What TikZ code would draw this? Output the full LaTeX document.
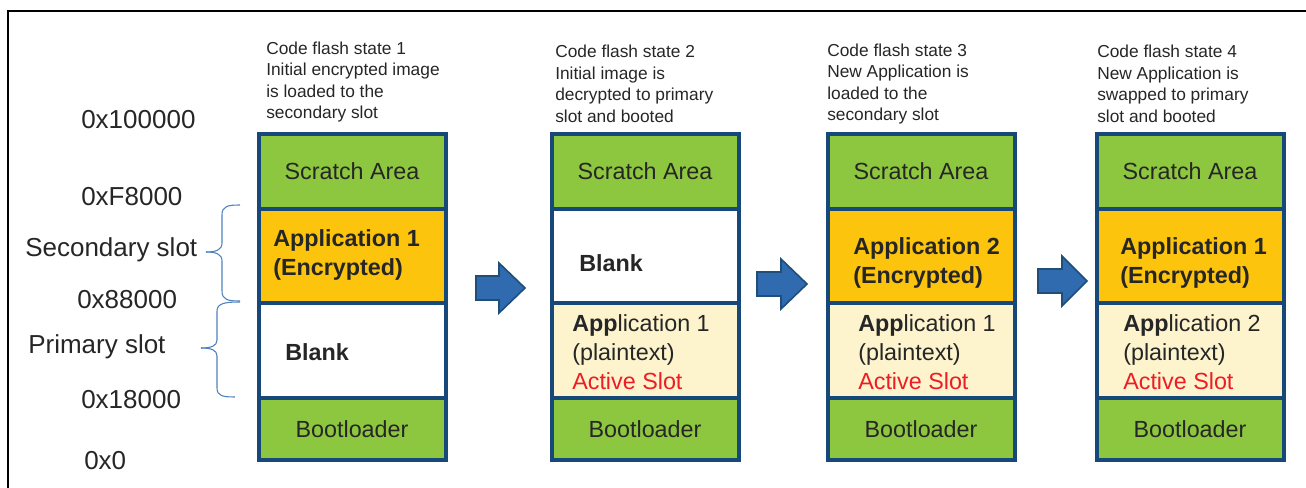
\documentclass[tikz,border=0pt]{standalone}
\usepackage{fontspec}
\setmainfont{Liberation Sans}

\definecolor{segline}{HTML}{17487A}
\definecolor{scratchgreen}{HTML}{8DC63F}
\definecolor{encyellow}{HTML}{FDC40E}
\definecolor{plaincream}{HTML}{FDF4CD}
\definecolor{flowblue}{HTML}{2F6BAE}
\definecolor{flowline}{HTML}{1F4E79}
\definecolor{braceblue}{HTML}{4F81BD}
\definecolor{activered}{HTML}{EE1C24}
\definecolor{inkgray}{HTML}{262626}

\tikzset{
  seg/.style={draw=segline, line width=3pt, anchor=north west, inner sep=0pt,
    minimum width=140.25pt, text=inkgray, font=\fontsize{17.5}{21.5}\selectfont},
  scr/.style={seg, fill=scratchgreen, minimum height=56.25pt},
  mid/.style={seg, minimum height=70.5pt},
  low/.style={seg, minimum height=71.25pt},
  boot/.style={seg, fill=scratchgreen, minimum height=46.5pt},
  boxtext/.style={anchor=west, inner sep=0pt, align=left, text=inkgray,
    font=\fontsize{17.5}{21.5}\selectfont},
  title/.style={anchor=west, inner sep=0pt, align=left, text=inkgray,
    font=\fontsize{13}{16.1}\selectfont},
  addr/.style={anchor=west, inner sep=0pt, text=inkgray,
    font=\fontsize{19.5}{23}\selectfont},
  brace/.style={draw=braceblue, line width=0.8pt},
  flow/.style={draw=flowline, fill=flowblue, line width=1.2pt, line join=miter}
}

\begin{document}
\begin{tikzpicture}[x=0.75pt,y=-0.75pt]
\useasboundingbox (0,0) rectangle (1306,488);

% frame
\draw[line width=1.6pt] (8,488) -- (8,11) -- (1306,11);

% address labels
\node[addr] (a100000) at (81,120) {0x100000};
\node[addr] (af8000) at (81,197) {0xF8000};
\node[addr] (lsec) at (25,250) {Secondary slot};
\node[addr] (a88000) at (77,300) {0x88000};
\node[addr] (lpri) at (28,347) {Primary slot};
\node[addr] (a18000) at (81,400) {0x18000};
\node[addr] (a0) at (84,461) {0x0};

% braces
\draw[brace] (240,205) .. controls (228,205) and (222,206) .. (222,215) -- (222,243)
  .. controls (222,250) and (216,252) .. (206,252);
\draw[brace] (240,301) .. controls (228,301) and (222,300) .. (222,291) -- (222,261)
  .. controls (222,254) and (216,252) .. (206,252);
\draw[brace] (240,302) .. controls (226,302) and (217,303) .. (217,311) -- (217,340)
  .. controls (217,346) and (211,348) .. (201,348);
\draw[brace] (235,397) .. controls (223,397) and (217,396) .. (217,388) -- (217,356)
  .. controls (217,350) and (211,348) .. (201,348);

% state 1
\node[title] (t1) at (266,82) {Code flash state 1\\Initial encrypted image\\is loaded to the\\secondary slot};
\node[scr] (c1scr) at (256.5,132) {Scratch Area};
\node[mid, fill=encyellow] (c1mid) at (256.5,207) {};
\node[low, fill=white] (c1low) at (256.5,301) {};
\node[boot] (c1boot) at (256.5,396) {Bootloader};
\node[boxtext, font=\fontsize{17.5}{21.5}\selectfont\bfseries] (c1enc) at (273,255) {Application 1\\(Encrypted)};
\node[boxtext, font=\fontsize{17.5}{21.5}\selectfont\bfseries] (c1blank) at (285,352) {Blank};

% state 2
\node[title] (t2) at (555,84) {Code flash state 2\\Initial image is\\decrypted to primary\\slot and booted};
\node[scr] (c2scr) at (549.5,132) {Scratch Area};
\node[mid, fill=white] (c2mid) at (549.5,207) {};
\node[low, fill=plaincream] (c2low) at (549.5,301) {};
\node[boot] (c2boot) at (549.5,396) {Bootloader};
\node[boxtext, font=\fontsize{17.5}{21.5}\selectfont\bfseries] (c2blank) at (579,263) {Blank};
\node[boxtext] (c2plain) at (572,352) {{\bfseries App}lication 1\\(plaintext)\\\textcolor{activered}{Active Slot}};

% state 3
\node[title] (t3) at (827,84) {Code flash state 3\\New Application is\\loaded to the\\secondary slot};
\node[scr] (c3scr) at (825.5,132) {Scratch Area};
\node[mid, fill=encyellow] (c3mid) at (825.5,207) {};
\node[low, fill=plaincream] (c3low) at (825.5,301) {};
\node[boot] (c3boot) at (825.5,396) {Bootloader};
\node[boxtext, font=\fontsize{17.5}{21.5}\selectfont\bfseries] (c3enc) at (853,263) {Application 2\\(Encrypted)};
\node[boxtext] (c3plain) at (858,352) {{\bfseries App}lication 1\\(plaintext)\\\textcolor{activered}{Active Slot}};

% state 4
\node[title] (t4) at (1097,84) {Code flash state 4\\New Application is\\swapped to primary\\slot and booted};
\node[scr] (c4scr) at (1094.5,132) {Scratch Area};
\node[mid, fill=encyellow] (c4mid) at (1094.5,207) {};
\node[low, fill=plaincream] (c4low) at (1094.5,301) {};
\node[boot] (c4boot) at (1094.5,396) {Bootloader};
\node[boxtext, font=\fontsize{17.5}{21.5}\selectfont\bfseries] (c4enc) at (1120,263) {Application 1\\(Encrypted)};
\node[boxtext] (c4plain) at (1123,352) {{\bfseries App}lication 2\\(plaintext)\\\textcolor{activered}{Active Slot}};

% block arrows between states
\draw[flow, shift={(476,288)}] (0,-12) -- (23,-12) -- (23,-25) -- (49,0) -- (23,25) -- (23,12) -- (0,12) -- cycle;
\draw[flow, shift={(757,284)}] (0,-12) -- (24,-12) -- (24,-25) -- (50,0) -- (24,25) -- (24,12) -- (0,12) -- cycle;
\draw[flow, shift={(1038,281)}] (0,-12) -- (24,-12) -- (24,-25) -- (49,0) -- (24,25) -- (24,12) -- (0,12) -- cycle;

\end{tikzpicture}
\end{document}
